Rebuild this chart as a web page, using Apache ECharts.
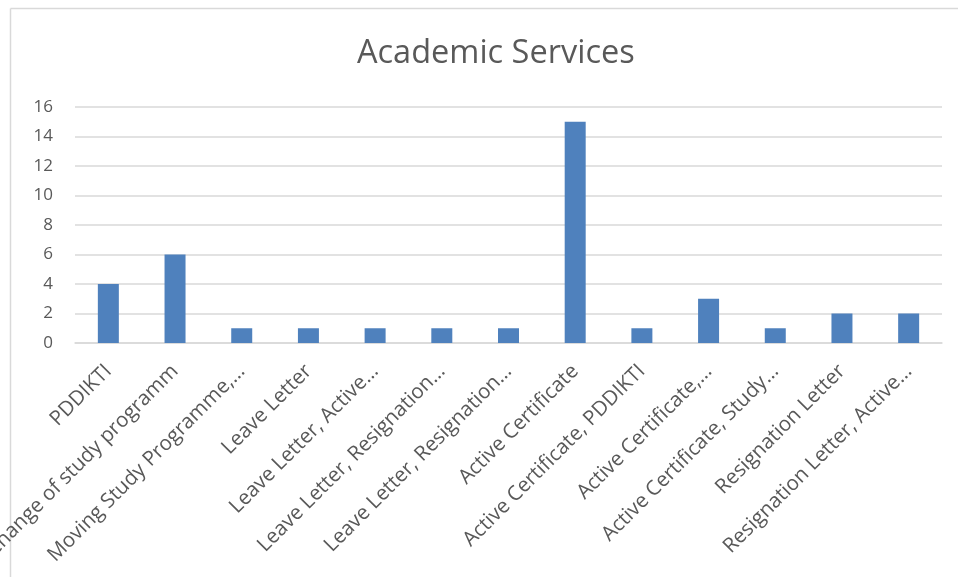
<!DOCTYPE html>
<html>
<head>
<meta charset="utf-8">
<script src="https://cdn.jsdelivr.net/npm/echarts@6/dist/echarts.min.js"></script>
<style>
  html, body { margin: 0; padding: 0; background: #fff; }
  #main { width: 958px; height: 577px; }
</style>
</head>
<body>
<div id="main"></div>
<script>
// categories (as shown, truncated like the original)
const categories = [
  "PDDIKTI",
  "Change of study programm",
  "Moving Study Programme,…",
  "Leave Letter",
  "Leave Letter, Active…",
  "Leave Letter, Resignation…",
  "Leave Letter, Resignation…",
  "Active Certificate",
  "Active Certificate, PDDIKTI",
  "Active Certificate,…",
  "Active Certificate, Study…",
  "Resignation Letter",
  "Resignation Letter, Active…"
];
const counts = [4, 6, 1, 1, 1, 1, 1, 15, 1, 3, 1, 2, 2];
const yTicks = { min: 0, max: 16, interval: 2 };

const myChart = echarts.init(document.getElementById("main"));

let option = {
  backgroundColor: "#ffffff",
  animation: false,
  title: {
    text: "Academic Services",
    left: 352,
    top: 32,
    textStyle: {
      color: "#595959",
      fontFamily: "Open Sans",
      fontWeight: "normal",
      fontSize: 32.5
    }
  },
  // chart frame (top + left edge like the screenshot)
  graphic: [
    { type: "line", shape: { x1: 10.5, y1: 8.5, x2: 958, y2: 8.5 }, style: { stroke: "#d9d9d9", lineWidth: 1.5 } },
    { type: "line", shape: { x1: 10.5, y1: 8.5, x2: 10.5, y2: 577 }, style: { stroke: "#d9d9d9", lineWidth: 1.5 } }
  ],
  grid: {
    left: 75,
    right: 16,
    top: 107,
    bottom: 234,
    containLabel: false,
    outerBoundsMode: "none"
  },
  xAxis: {
    type: "category",
    data: categories,
    axisLine: { lineStyle: { color: "#d9d9d9", width: 1.5 } },
    axisTick: { show: false },
    axisLabel: {
      interval: 0,
      rotate: 45,
      margin: 25,
      color: "#595959",
      fontFamily: "Open Sans",
      fontSize: 20.5
    }
  },
  yAxis: {
    type: "value",
    min: yTicks.min,
    max: yTicks.max,
    interval: yTicks.interval,
    axisLine: { show: false },
    axisTick: { show: false },
    splitLine: { lineStyle: { color: "#d9d9d9", width: 1.5 } },
    axisLabel: {
      margin: 22,
      color: "#595959",
      fontFamily: "Open Sans",
      fontSize: 17
    }
  },
  series: [
    {
      name: "Academic Services",
      type: "bar",
      data: counts,
      barWidth: 21,
      itemStyle: { color: "#4f81bd" }
    }
  ]
};

myChart.setOption(option);
</script>
</body>
</html>
